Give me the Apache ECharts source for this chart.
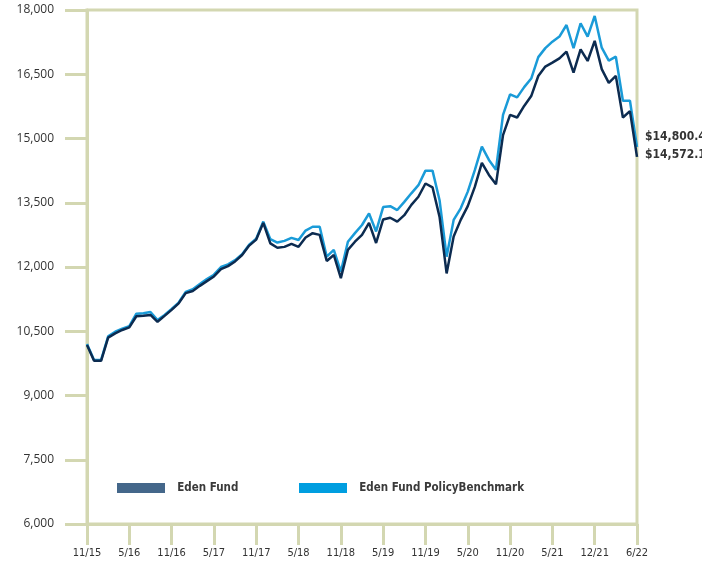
<!DOCTYPE html>
<html>
<head>
<meta charset="utf-8">
<script src="https://cdn.jsdelivr.net/npm/echarts@6/dist/echarts.min.js"></script>
<style>
html,body{margin:0;padding:0;background:#fff;}
#chart{width:702px;height:563px;}
</style>
</head>
<body>
<div id="chart"></div>
<script>
// Monthly points, 11/15 .. 6/22 (79 points)
var tickLabels = ['11/15','5/16','11/16','5/17','11/17','5/18','11/18','5/19','11/19','5/20','11/20','5/21','12/21','6/22'];

var fundValues = [
  10180, 9810, 9810, 10350, 10450, 10530, 10590, 10850, 10860, 10880,
  10720, 10860, 11000, 11150, 11390, 11440, 11560, 11670, 11780, 11950,
  12020, 12130, 12280, 12500, 12640, 13030, 12550, 12450, 12470, 12540,
  12470, 12690, 12790, 12750, 12140, 12280, 11740, 12400, 12590, 12750,
  13030, 12560, 13110, 13150, 13060, 13210, 13450, 13640, 13950, 13860,
  13170, 11850, 12710, 13100, 13420, 13870, 14430, 14150, 13930, 15080,
  15550, 15490, 15760, 15990, 16460, 16680, 16770, 16870, 17030, 16540,
  17080, 16810, 17280, 16620, 16300, 16460, 15490, 15640, 14572.1
];

var benchmarkValues = [
  10200, 9830, 9830, 10380, 10490, 10560, 10620, 10910, 10920, 10950,
  10760, 10880, 11020, 11170, 11420, 11480, 11600, 11720, 11820, 12000,
  12060, 12160, 12300, 12520, 12660, 13060, 12650, 12570, 12610, 12680,
  12630, 12850, 12940, 12940, 12240, 12400, 11890, 12590, 12790, 12980,
  13250, 12830, 13400, 13420, 13330, 13520, 13720, 13910, 14250, 14250,
  13560, 12240, 13100, 13370, 13760, 14260, 14810, 14500, 14270, 15550,
  16030, 15960, 16200, 16400, 16900, 17110, 17260, 17380, 17650, 17110,
  17690, 17380, 17860, 17120, 16820, 16910, 15880, 15880, 14800.4
];

var seriesNames = ['Eden Fund', 'Eden Fund PolicyBenchmark'];
var endLabelTexts = ['$14,572.1', '$14,800.4'];

var categories = [];
for (var i = 0; i < fundValues.length; i++) { categories.push('m' + i); }

var AXIS = '#d3d7b1';
var chart = echarts.init(document.getElementById('chart'), null, {renderer: 'canvas'});

function every6(idx) { return idx % 6 === 0; }

var legendText = {fontFamily: 'DejaVu Sans Condensed', fontWeight: 'bold', fontSize: 11.5, color: '#3a3a3a'};

chart.setOption({
  animation: false,
  grid: {
    left: 87, right: 65, top: 10, bottom: 39,
    show: true, borderColor: AXIS, borderWidth: 3, backgroundColor: 'transparent'
  },
  legend: [{
    left: 117, top: 482, padding: 0,
    icon: 'rect', itemWidth: 48, itemHeight: 10,
    formatter: '  {name}',
    textStyle: legendText,
    data: [{name: seriesNames[0], itemStyle: {color: '#44678a'}}]
  }, {
    left: 299, top: 482, padding: 0,
    icon: 'rect', itemWidth: 48, itemHeight: 10,
    formatter: '  {name}',
    textStyle: legendText,
    data: [{name: seriesNames[1], itemStyle: {color: '#009ee0'}}]
  }],
  xAxis: {
    type: 'category',
    data: categories,
    boundaryGap: false,
    axisLine: {show: true, lineStyle: {color: AXIS, width: 3}},
    axisTick: {show: true, interval: every6, length: 21, lineStyle: {color: AXIS, width: 3}},
    axisLabel: {
      interval: every6, margin: 24,
      fontFamily: 'DejaVu Sans Condensed', fontSize: 11, color: '#333',
      formatter: function (v, idx) { return tickLabels[idx / 6]; }
    },
    splitLine: {show: false}
  },
  yAxis: {
    type: 'value',
    min: 6000, max: 18000, interval: 1500,
    axisLine: {show: true, lineStyle: {color: AXIS, width: 3}},
    axisTick: {show: true, length: 22, lineStyle: {color: AXIS, width: 3}},
    axisLabel: {
      margin: 33, fontFamily: 'Open Sans', fontSize: 12, color: '#333',
      formatter: function (v) { return v.toLocaleString('en-US'); }
    },
    splitLine: {show: false}
  },
  series: [{
    name: seriesNames[1],
    type: 'line',
    data: benchmarkValues,
    symbol: 'none',
    lineStyle: {color: '#1a9bd8', width: 2.5},
    itemStyle: {color: '#009ee0'},
    endLabel: {
      show: true, distance: 8, offset: [0, -10],
      formatter: endLabelTexts[1],
      fontFamily: 'DejaVu Sans Condensed', fontWeight: 'bold', fontSize: 12, color: '#333'
    },
    z: 2
  }, {
    name: seriesNames[0],
    type: 'line',
    data: fundValues,
    symbol: 'none',
    lineStyle: {color: '#0c2b50', width: 2.5},
    itemStyle: {color: '#44678a'},
    endLabel: {
      show: true, distance: 8, offset: [0, -2],
      formatter: endLabelTexts[0],
      fontFamily: 'DejaVu Sans Condensed', fontWeight: 'bold', fontSize: 12, color: '#333'
    },
    z: 3
  }]
});
</script>
</body>
</html>
